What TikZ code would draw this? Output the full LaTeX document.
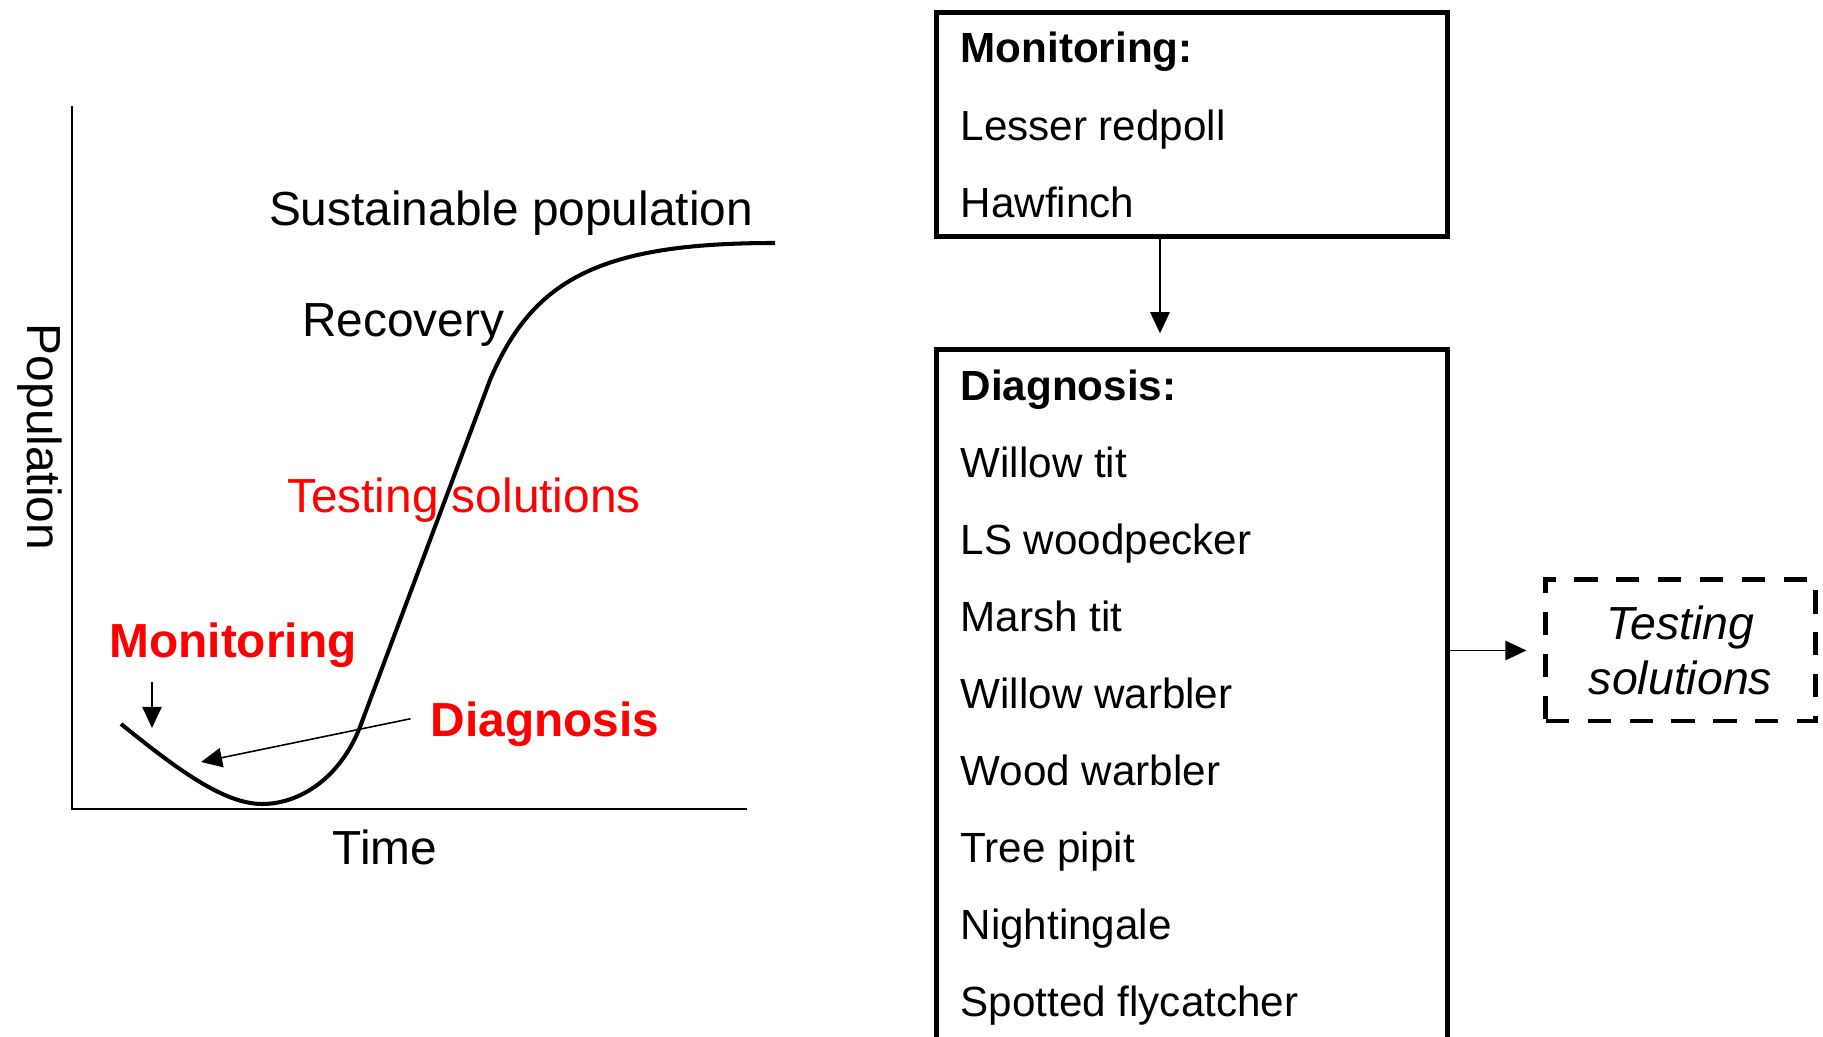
\documentclass[tikz,border=0pt]{standalone}
\usepackage{fontspec}
\setmainfont{Liberation Sans}
\usetikzlibrary{arrows.meta}
\definecolor{stagered}{RGB}{255,0,0}
\tikzset{
    lbl/.style={font=\fontsize{13.6}{16}\selectfont, inner sep=0pt, anchor=base},
    stagelbl/.style={lbl, text=stagered, font=\fontsize{13.6}{16}\selectfont\bfseries},
    boxlbl/.style={font=\fontsize{12}{14}\selectfont, inner sep=0pt, anchor=base west},
    listbox/.style={draw, line width=1.4pt, minimum width=5.11cm, inner sep=0pt},
    testbox/.style={draw, line width=1.4pt, dash pattern=on 6.6pt off 5.3pt,
        minimum width=2.69cm, minimum height=1.41cm, align=center,
        font=\fontsize{13.2}{15.8}\selectfont\itshape},
    arr/.style={-{Triangle[length=6pt,width=5.5pt]}, line width=0.45pt},
    axis/.style={line width=0.6pt},
    trend/.style={line width=1.15pt, line join=round},
}

\begin{document}
\begin{tikzpicture}[x=0.01cm, y=-0.01cm]
    \useasboundingbox (0,0) rectangle (1823,1037);

    % graph
    \draw[axis] (72,106) -- (72,809) -- (747,809);
    \draw[trend] (121,724) .. controls (172,765) and (222,804) .. (262,804)
        .. controls (300,804) and (340,778) .. (360,727) -- (490,380)
        .. controls (533,279) and (600,243) .. (775,243);

    \node[lbl, rotate=-90, anchor=center] (ylbl) at (40,437) {Population};
    \node[lbl] (xlbl) at (385,865) {Time};
    \node[lbl] (sustain) at (511,226) {Sustainable population};
    \node[lbl] (recov) at (403,337) {Recovery};
    \node[lbl, text=stagered] (testtxt) at (464,513) {Testing solutions};
    \node[stagelbl] (montxt) at (233,658) {Monitoring};
    \node[stagelbl] (diagtxt) at (545,737) {Diagnosis};

    \coordinate (montip) at (152,728);
    \coordinate (diagtip) at (201,762);
    \draw[arr, shorten <=0.13cm] (montxt.south -| montip) -- (montip);
    \draw[arr, shorten <=0.2cm] ([yshift=0.1cm]diagtxt.west) -- (diagtip);

    % species boxes
    \node[listbox, minimum height=2.24cm] (mon) at (1192,124.5) {};
    \node[listbox, minimum height=6.95cm] (diag) at (1192,697.5) {};

    \node[boxlbl, font=\fontsize{12}{14}\selectfont\bfseries]
        at ([xshift=0.26cm, yshift=-0.53cm]mon.north west) {Monitoring:};
    \foreach \bird [count=\i] in {Lesser redpoll, Hawfinch}
        \node[boxlbl] at ([xshift=0.26cm, yshift=-0.53cm-\i*0.77cm]mon.north west) {\bird};

    \node[boxlbl, font=\fontsize{12}{14}\selectfont\bfseries]
        at ([xshift=0.26cm, yshift=-0.53cm]diag.north west) {Diagnosis:};
    \foreach \bird [count=\i] in {Willow tit, LS woodpecker, Marsh tit,
            Willow warbler, Wood warbler, Tree pipit, Nightingale, Spotted flycatcher}
        \node[boxlbl] at ([xshift=0.26cm, yshift=-0.53cm-\i*0.77cm]diag.north west) {\bird};

    \node[testbox] (test) at (1680.5,650.5) {Testing\\solutions};

    \draw[arr] ([xshift=-0.32cm]mon.south) -- ([xshift=-0.32cm, yshift=0.14cm]diag.north);
    \draw[arr, shorten >=0.17cm] (diag.east |- test.west) -- (test.west);
\end{tikzpicture}
\end{document}
